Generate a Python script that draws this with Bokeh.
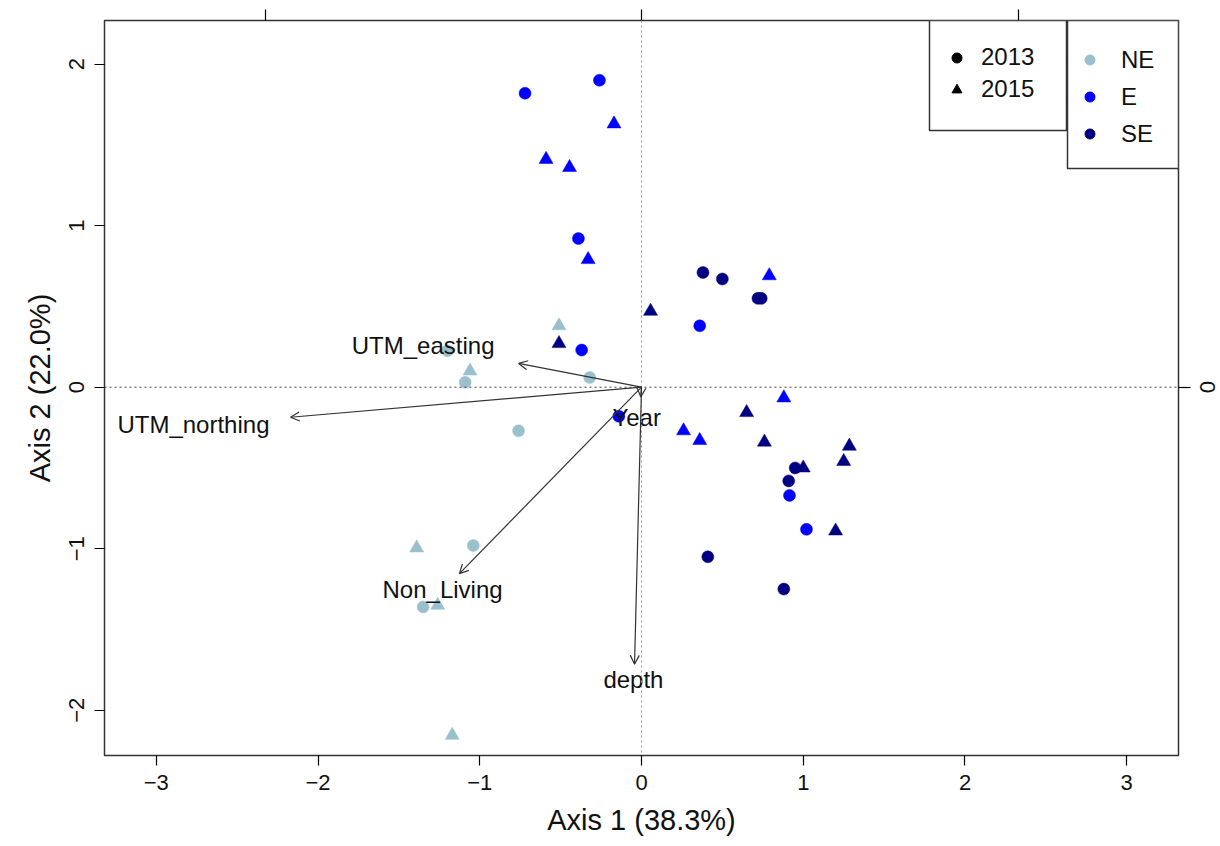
from bokeh.plotting import figure
from bokeh.models import (Range1d, LinearAxis, FixedTicker, Span, Arrow, OpenHead,
                          ColumnDataSource, Legend, LegendItem, BoxAnnotation)
from bokeh.transform import factor_cmap
from bokeh.core.properties import value
from bokeh.embed import file_html
from bokeh.resources import INLINE

FONT = "Liberation Sans"
NAN = float("nan")

# ---------------- data ----------------
regions = ["NE", "E", "SE"]
region_colors = ["#9AC0CD", "#0000FF", "#000080"]
years = ["2013", "2015"]
year_markers = ["circle", "triangle"]

ne_2013_x = [-1.20, -1.09, -0.32, -0.76, -1.04, -1.35]
ne_2013_y = [0.225, 0.03, 0.06, -0.27, -0.98, -1.36]
ne_2015_x = [-0.51, -1.06, -1.39, -1.26, -1.17]
ne_2015_y = [0.38, 0.10, -0.995, -1.35, -2.155]

e_2013_x = [-0.72, -0.26, -0.39, 0.36, -0.37, -0.14, 0.915, 1.02]
e_2013_y = [1.82, 1.90, 0.92, 0.38, 0.23, -0.18, -0.67, -0.88]
e_2015_x = [-0.17, -0.59, -0.445, -0.33, 0.79, 0.88, 0.26, 0.36]
e_2015_y = [1.63, 1.41, 1.36, 0.79, 0.69, -0.066, -0.27, -0.33]

se_2013_x = [0.38, 0.50, 0.72, 0.74, 0.95, 0.91, 0.41, 0.88]
se_2013_y = [0.71, 0.67, 0.55, 0.55, -0.50, -0.58, -1.05, -1.25]
se_2015_x = [0.056, -0.51, 0.65, 0.76, 1.00, 1.285, 1.25, 1.20]
se_2015_y = [0.47, 0.27, -0.157, -0.34, -0.50, -0.365, -0.46, -0.89]

var_names = ["UTM_easting", "UTM_northing", "Year", "Non_Living", "depth"]
var_x = [-0.76, -2.17, -0.005, -1.126, -0.043]
var_y = [0.147, -0.186, -0.06, -1.154, -1.715]
label_x = [-1.35, -2.77, -0.03, -1.23, -0.05]
label_y = [0.26, -0.23, -0.19, -1.255, -1.81]

x_ticks = [-3, -2, -1, 0, 1, 2, 3]
y_ticks = [-2, -1, 0, 1, 2]
top_ticks = [-2.325, 0, 2.33]
right_ticks = [0]
x_label = "Axis 1 (38.3%)"
y_label = "Axis 2 (22.0%)"

# ---------------- build table ----------------
xs, ys, regs, yrs = [], [], [], []
for reg, groups in [("NE", [(ne_2013_x, ne_2013_y, "2013"), (ne_2015_x, ne_2015_y, "2015")]),
                    ("E", [(e_2013_x, e_2013_y, "2013"), (e_2015_x, e_2015_y, "2015")]),
                    ("SE", [(se_2013_x, se_2013_y, "2013"), (se_2015_x, se_2015_y, "2015")])]:
    for gx, gy, yr in groups:
        xs += gx
        ys += gy
        regs += [reg] * len(gx)
        yrs += [yr] * len(gx)

p = figure(width=1220, height=846, output_backend="svg", toolbar_location=None,
           x_range=Range1d(-3.32, 3.32), y_range=Range1d(-2.28, 2.27),
           min_border_left=104, min_border_right=42, min_border_top=20, min_border_bottom=91)
p.grid.visible = False
p.outline_line_color = "#333333"
p.outline_line_width = 1.5
p.background_fill_color = "white"
p.border_fill_color = "white"

# reference lines
p.add_layout(Span(location=0, dimension="width", line_color="#444444", line_dash="2 3", line_width=1))
p.add_layout(Span(location=0, dimension="height", line_color="#999999", line_dash="2 3", line_width=1))

# points
for yr, mk, sz in zip(years, year_markers, [12, 14]):
    idx = [i for i, v in enumerate(yrs) if v == yr]
    s = ColumnDataSource(dict(x=[xs[i] for i in idx], y=[ys[i] for i in idx],
                              region=[regs[i] for i in idx]))
    p.scatter("x", "y", source=s, marker=mk, size=sz,
              fill_color=factor_cmap("region", region_colors, regions),
              line_color=factor_cmap("region", region_colors, regions), line_width=0.5)

# arrows
asrc = ColumnDataSource(dict(x0=[0] * len(var_x), y0=[0] * len(var_y), x1=var_x, y1=var_y))
p.add_layout(Arrow(source=asrc, x_start="x0", y_start="y0", x_end="x1", y_end="y1",
                   line_color="#333333", line_width=1.2,
                   end=OpenHead(size=9, line_color="#333333", line_width=1.2)))
lsrc = ColumnDataSource(dict(x=label_x, y=label_y, t=var_names))
p.text("x", "y", text="t", source=lsrc, text_align="center", text_baseline="middle",
       text_font=value(FONT), text_font_size="24px", text_color="#111111")

# axes styling
def style_axis(ax):
    ax.axis_line_color = None
    ax.major_tick_line_color = "black"
    ax.major_tick_line_width = 1.2
    ax.major_tick_in = 0
    ax.major_tick_out = 10
    ax.minor_tick_line_color = None
    ax.major_label_text_font = FONT
    ax.major_label_text_font_size = "22px"
    ax.major_label_text_color = "#111111"
    ax.axis_label_text_font = FONT
    ax.axis_label_text_font_style = "normal"
    ax.axis_label_text_font_size = "29px"
    ax.axis_label_text_color = "#111111"

def minus(v):
    return ("\u2212" + str(abs(v))) if v < 0 else str(v)

xa = p.xaxis[0]
style_axis(xa)
xa.ticker = FixedTicker(ticks=x_ticks)
xa.major_label_overrides = {t: minus(t) for t in x_ticks}
xa.major_label_standoff = 9
xa.axis_label = x_label
xa.axis_label_standoff = 11

ya = p.yaxis[0]
style_axis(ya)
ya.ticker = FixedTicker(ticks=y_ticks)
ya.major_label_overrides = {t: minus(t) for t in y_ticks}
ya.major_label_orientation = "vertical"
ya.major_label_standoff = 10
ya.axis_label = y_label
ya.axis_label_standoff = 11

top = LinearAxis(ticker=FixedTicker(ticks=top_ticks))
style_axis(top)
top.major_tick_out = 11
top.major_label_text_color = None
top.major_label_standoff = 0
p.add_layout(top, "above")

right = LinearAxis(ticker=FixedTicker(ticks=right_ticks))
style_axis(right)
right.major_tick_out = 12
right.major_label_orientation = "vertical"
right.major_label_standoff = 9
right.major_label_overrides = {0: "0"}
p.add_layout(right, "right")

# legend frames
for l, r, t, b in [(929, 1066, 20, 130), (1067, 1178, 20, 168)]:
    p.add_layout(BoxAnnotation(left=l, right=r, top=t, bottom=b,
                               left_units="canvas", right_units="canvas",
                               top_units="canvas", bottom_units="canvas",
                               fill_color="white", fill_alpha=1.0,
                               line_color="#333333", line_width=1.5, line_alpha=1.0))

# legends (proxy renderers with no visible data)
yr_items = []
for yr, mk in zip(years, year_markers):
    r = p.scatter(x=[NAN], y=[NAN], marker=mk, fill_color="black", line_color="black")
    yr_items.append(LegendItem(label=yr, renderers=[r]))
reg_items = []
for reg, col in zip(regions, region_colors):
    r = p.scatter(x=[NAN], y=[NAN], marker="circle", fill_color=col, line_color=col)
    reg_items.append(LegendItem(label=reg, renderers=[r]))

leg1 = Legend(items=yr_items, location=(840, 650), padding=0, margin=0, spacing=0,
              glyph_width=25, glyph_height=25, label_height=32, label_standoff=12,
              label_text_font=FONT, label_text_font_size="24px", label_text_color="#111111",
              border_line_color=None, background_fill_alpha=0)
leg2 = Legend(items=reg_items, location=(973, 603), padding=0, margin=0, spacing=0,
              glyph_width=25, glyph_height=25, label_height=37, label_standoff=19,
              label_text_font=FONT, label_text_font_size="24px", label_text_color="#111111",
              border_line_color=None, background_fill_alpha=0)
p.add_layout(leg1)
p.add_layout(leg2)

open("out.html", "w").write(file_html(p, INLINE))
